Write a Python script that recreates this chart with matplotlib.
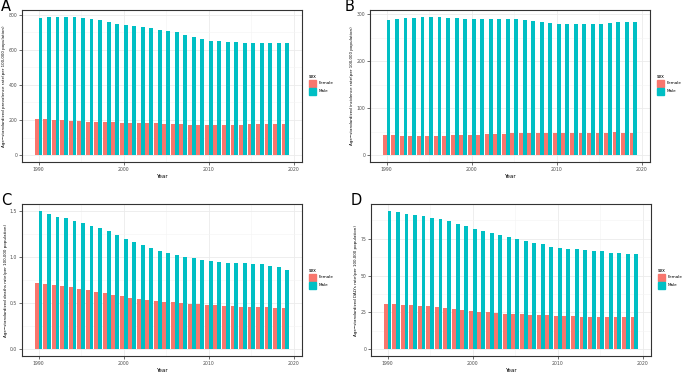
import matplotlib
matplotlib.use("Agg")
import matplotlib.pyplot as plt
from matplotlib.patches import Rectangle
import numpy as np

years = np.arange(1990, 2020)

prev_female = [205, 203, 199, 199, 195, 193, 191, 190, 188, 186, 184, 182, 182, 180, 180,
               178, 176, 176, 174, 174, 174, 174, 174, 172, 174, 176, 178, 178, 178, 178]
prev_male = [783, 787, 787, 787, 787, 781, 775, 768, 758, 749, 741, 734, 728, 722, 715,
             709, 700, 684, 671, 660, 652, 648, 645, 643, 640, 639, 639, 640, 641, 641]

inc_female = [41.8, 41.8, 41.6, 41.6, 41.5, 41.5, 41.6, 41.7, 41.8, 42.0, 42.5, 43.0, 44.0, 45.2, 45.4,
              46.0, 46.0, 46.0, 46.2, 46.2, 46.3, 46.4, 46.4, 46.5, 46.6, 46.8, 47.5, 49.0, 48.0, 46.0]
inc_male = [288.7, 290.8, 291.5, 292.9, 294.3, 294.0, 293.6, 292.2, 291.5, 290.8, 290.0, 289.4, 289.4, 290.0, 290.0,
            289.4, 287.0, 285.8, 283.0, 280.9, 280.0, 278.7, 278.7, 278.7, 278.7, 278.7, 281.6, 283.7, 284.4, 283.0]

death_female = [0.717, 0.703, 0.692, 0.685, 0.670, 0.656, 0.638, 0.620, 0.605, 0.591, 0.572, 0.558, 0.547, 0.536, 0.522,
                0.514, 0.507, 0.500, 0.493, 0.486, 0.482, 0.478, 0.471, 0.467, 0.460, 0.460, 0.457, 0.453, 0.449, 0.446]
death_male = [1.500, 1.464, 1.438, 1.424, 1.395, 1.370, 1.341, 1.315, 1.279, 1.236, 1.196, 1.163, 1.134, 1.101, 1.065,
              1.043, 1.022, 1.000, 0.989, 0.971, 0.957, 0.946, 0.938, 0.938, 0.935, 0.928, 0.920, 0.906, 0.888, 0.862]

daly_female = [30.8, 30.6, 30.1, 29.9, 29.2, 29.0, 28.3, 27.9, 27.2, 26.7, 26.1, 25.4, 24.9, 24.7, 24.2,
               24.0, 23.6, 23.3, 22.9, 22.9, 22.7, 22.4, 22.2, 22.0, 21.8, 21.8, 21.8, 21.8, 21.8, 21.8]
daly_male = [94.0, 93.1, 92.2, 91.5, 90.6, 89.5, 88.2, 87.0, 85.2, 83.4, 81.8, 80.2, 78.9, 77.5, 76.1,
             75.0, 73.6, 72.3, 71.2, 69.6, 68.9, 68.2, 67.8, 67.3, 66.8, 66.4, 65.7, 65.5, 65.0, 64.6]

panels = ["A", "B", "C", "D"]
ylabels = ["Age\u2212standardized prevalence rate(per 100,000 population)",
           "Age\u2212standardized incidence rate(per 100,000 population)",
           "Age\u2212standardized deaths rate(per 100,000 population)",
           "Age\u2212standardized DALYs rate(per 100,000 population)"]
yticks = [[0, 200, 400, 600, 800], [0, 100, 200, 300], [0.0, 0.5, 1.0, 1.5], [0, 25, 50, 75]]
yticklabels = [["0", "200", "400", "600", "800"], ["0", "100", "200", "300"],
               ["0.0", "0.5", "1.0", "1.5"], ["0", "25", "50", "75"]]
data = [(prev_female, prev_male), (inc_female, inc_male),
        (death_female, death_male), (daly_female, daly_male)]

W, H = 683, 373
# pixel boxes: left, top, right, bottom
boxes = [(22, 10, 302, 162), (370, 10, 650, 162), (22, 204, 302, 356), (371, 204, 651, 356)]
letter_x = [1, 345, 1, 351]

c_f = "#F8766D"
c_m = "#00BFC4"

fig = plt.figure(figsize=(W / 100, H / 100), dpi=100)

for i, (l, t, r, b) in enumerate(boxes):
    ax = fig.add_axes([l / W, (H - b) / H, (r - l) / W, (b - t) / H])
    fem, mal = data[i]
    ax.bar(years - 0.225, fem, width=0.45, color=c_f, zorder=3)
    ax.bar(years + 0.225, mal, width=0.45, color=c_m, zorder=3)
    ymax = max(max(fem), max(mal))
    ax.set_ylim(-0.05 * ymax, 1.05 * ymax)
    ax.set_xlim(1989.55 - 1.5, 2019.45 + 1.5)
    ax.set_xticks([1990, 2000, 2010, 2020])
    ax.set_xticks([1995, 2005, 2015], minor=True)
    ax.set_yticks(yticks[i])
    ax.set_yticklabels(yticklabels[i])
    yt = yticks[i]
    step = yt[1] - yt[0]
    ax.set_yticks([v + step / 2 for v in yt if v + step / 2 < 1.05 * ymax], minor=True)
    ax.grid(which="major", color="#EBEBEB", lw=0.6, zorder=0)
    ax.grid(which="minor", color="#F4F4F4", lw=0.4, zorder=0)
    ax.tick_params(which="major", labelsize=3.3, length=2, width=0.5, color="#333333",
                   labelcolor="#4D4D4D", pad=1.5)
    ax.tick_params(which="minor", length=0)
    for s in ax.spines.values():
        s.set_color("#333333")
        s.set_linewidth(0.8)
    ax.set_xlabel("Year", fontsize=4.0, labelpad=1.5)
    ax.set_ylabel(ylabels[i], fontsize=2.9, labelpad=1.5)
    fig.text(letter_x[i] / W, 1 - (t + 1) / H, panels[i], fontsize=10.5, va="baseline", ha="left")

    # legend
    lx = r + 7
    ly = (t + b) / 2 - 10
    fig.text(lx / W, 1 - ly / H, "sex", fontsize=3.3, va="center", ha="left")
    for k, (lab, col) in enumerate([("Female", c_f), ("Male", c_m)]):
        ky = ly + 7 + k * 8.5
        fig.patches.append(Rectangle((lx / W, 1 - (ky + 3.5) / H), 7 / W, 7 / H,
                                     transform=fig.transFigure, color=col))
        fig.text((lx + 9.5) / W, 1 - ky / H, lab, fontsize=3.0, va="center", ha="left")

fig.savefig("out.png", dpi=100)
